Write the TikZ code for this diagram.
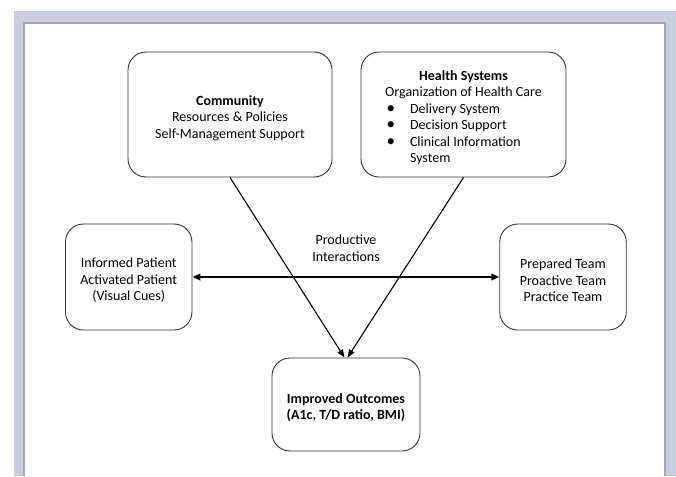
\documentclass[tikz,border=0pt]{standalone}
\usepackage{fontspec}
\setmainfont{Carlito}
\usetikzlibrary{arrows.meta, positioning}
\definecolor{framebg}{RGB}{201,203,225}
\definecolor{frameline}{RGB}{165,165,178}
\definecolor{boxline}{RGB}{50,50,50}

% taller first line, sets the text a little lower in the boxes
\newcommand{\topstrut}{\rule{0pt}{16.5pt}}
% bullet for the list in the health systems box
\newcommand{\listitem}[1]{\makebox[157pt][l]{\makebox[25pt][l]{\hspace{1.5pt}{\fontsize{17pt}{16.5pt}\selectfont\textbullet}}#1}}

\begin{document}
\begin{tikzpicture}[x=1pt, y=-1pt, on grid,
    font=\fontsize{14pt}{16.5pt}\selectfont,
    box/.style={rectangle, rounded corners=18pt, draw=boxline, line width=0.9pt, align=center, inner sep=0pt},
    link/.style={line width=1.1pt, -{Triangle[length=8pt, width=6pt]}}]

    % page frame
    \useasboundingbox (0,0) rectangle (676,476);
    \fill[framebg] (14,11) rectangle (676,476);
    \fill[white] (23,22) rectangle (666,476);
    \draw[frameline, line width=1.6pt] (23.8,476) -- (23.8,22.8) -- (665.2,22.8) -- (665.2,476);

    \node[box, minimum width=204pt, minimum height=125pt] (community) at (230,114.5) {\topstrut\textbf{Community}\\
            Resources \& Policies\\
            Self-Management Support};

    \node[box, minimum width=205pt, minimum height=125pt, right=233.5pt of community] (health) {\topstrut\textbf{Health Systems}\\
            Organization of Health Care\\
            \listitem{Delivery System}\\
            \listitem{Decision Support}\\
            \listitem{Clinical Information}\\
            \makebox[157pt][l]{\hspace{25pt}System}};

    \node[box, minimum width=126.5pt, minimum height=106pt] (patient) at (128.7,277) {\topstrut Informed Patient\\
            Activated Patient\\
            (Visual Cues)};

    \node[box, minimum width=126.5pt, minimum height=106pt, right=434.3pt of patient] (team) {\topstrut Prepared Team\\
            Proactive Team\\
            Practice Team};

    \node[box, minimum width=148pt, minimum height=93pt, font=\fontsize{14pt}{16.5pt}\selectfont\bfseries] (outcome) at (346,404.5) {\topstrut Improved Outcomes\\
            (A1c, T/D ratio, BMI)};

    \node[align=center] (interact) at (346,248) {Productive\\Interactions};

    \path[link]
    (community.south) edge ([xshift=-1.5pt]outcome.north)
    (health.south) edge ([xshift=1.5pt]outcome.north);

    \draw[line width=2pt, {Triangle[length=8pt, width=6.5pt]}-{Triangle[length=8pt, width=6.5pt]}] (patient.east) -- (team.west);

\end{tikzpicture}
\end{document}
